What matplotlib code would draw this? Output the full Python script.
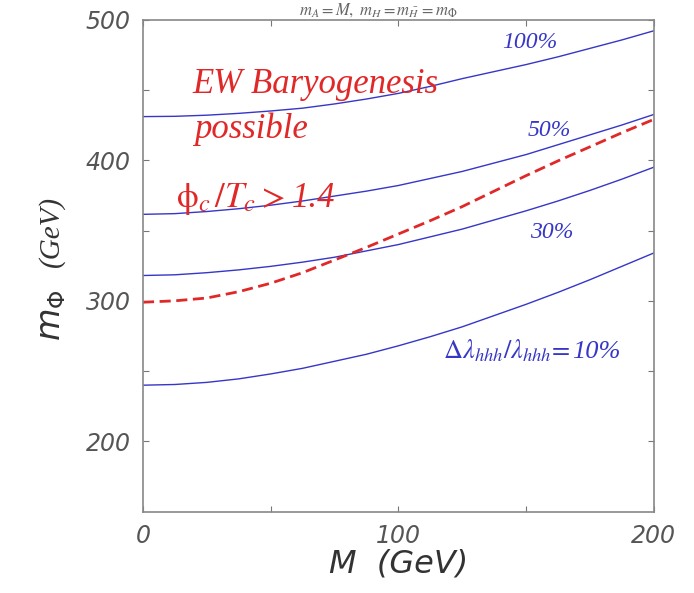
import numpy as np
import matplotlib
matplotlib.use("Agg")
import matplotlib.pyplot as plt

# M (GeV) grid and m_Phi curves
M = [0, 12.5, 25, 37.5, 50, 62.5, 75, 87.5, 100, 112.5, 125, 137.5, 150, 162.5, 175, 187.5, 200]
m100 = [431, 431.2, 432, 433.3, 435, 437, 440, 443.5, 447.5, 452.5, 458, 463, 468, 473.5, 479.5, 485.5, 492]
m50 = [361.5, 362, 363.5, 365.5, 368, 371, 374.5, 378, 382, 387, 392, 398, 404, 411, 418, 425, 432.5]
m30 = [318, 318.5, 320, 322, 324.5, 327.5, 331, 335.5, 340, 345.5, 351, 357.5, 364, 371, 378.5, 386.5, 395]
m10 = [240, 240.5, 242, 244.5, 248, 252, 257, 262, 268, 274.5, 281.5, 289.5, 297.5, 306, 315, 324.5, 334]
m_ewbg = [299, 300, 302, 306.5, 312.5, 320, 329, 338, 347.5, 357, 367, 378, 389, 399.5, 409.5, 419.5, 429]

xticks = [0, 100, 200]
yticks = [200, 300, 400, 500]

blue = '#3636c8'
red = '#e02828'
gray = '#555555'

fig = plt.figure(figsize=(6.94, 5.93), dpi=100)
ax = fig.add_axes([0.206, 0.137, 0.736, 0.830])

for m in (m100, m50, m30, m10):
    ax.plot(M, m, color=blue, lw=1.0)
ax.plot(M, m_ewbg, color=red, lw=2.0, dashes=(4.0, 2.0))

ax.set_xlim(0, 200)
ax.set_ylim(150, 500)
ax.set_xticks(xticks)
ax.set_yticks(yticks)
ax.set_xticks([50, 150], minor=True)
ax.set_yticks([250, 350, 450], minor=True)
ax.tick_params(which='both', direction='in', top=True, right=True,
               color='#777777', length=4, width=0.8)
ax.tick_params(which='major', labelsize=17, labelcolor=gray, pad=9)
for lab in ax.get_xticklabels() + ax.get_yticklabels():
    lab.set_fontstyle('italic')
for s in ax.spines.values():
    s.set_color('#888888')
    s.set_linewidth(1.2)

ax.set_xlabel('M  (GeV)', fontsize=23, fontstyle='italic', color='#333333', labelpad=0)

# y label: sans m_Phi plus serif (GeV)
ax.text(-0.18, 0.40, r'$m_\Phi$', transform=ax.transAxes, rotation=90,
        fontsize=24, color='#333333', math_fontfamily='dejavusans',
        ha='center', va='center')
ax.text(-0.18, 0.57, '(GeV)', transform=ax.transAxes, rotation=90,
        fontsize=21, color='#333333', family='Liberation Serif', style='italic',
        ha='center', va='center')

serif = dict(family='Liberation Serif', style='italic')
ax.text(19.5, 448, 'EW Baryogenesis', color=red, fontsize=25, **serif)
ax.text(20, 416, 'possible', color=red, fontsize=25, **serif)
t1 = ax.text(13, 367, r'$\mathrm{\phi}_c\,/T_c >$', color=red, fontsize=25,
             math_fontfamily='stix')

ax.text(140.5, 480, '100%', color=blue, fontsize=17, **serif)
ax.text(150.5, 417, '50%', color=blue, fontsize=17, **serif)
ax.text(151.5, 344.5, '30%', color=blue, fontsize=17, **serif)
t2 = ax.text(117.5, 259, r'$\Delta\lambda_{hhh}/\lambda_{hhh}\!=$',
             color=blue, fontsize=19, math_fontfamily='stix')

# italic numbers placed right after the math parts
fig.canvas.draw()
inv = ax.transData.inverted()
x1 = inv.transform(t1.get_window_extent().get_points()[1])[0]
ax.text(x1 + 2.5, 367, '1.4', color=red, fontsize=25, **serif)
x2 = inv.transform(t2.get_window_extent().get_points()[1])[0]
ax.text(x2 + 0.5, 259, '10%', color=blue, fontsize=19, **serif)

# title at the very top edge
fig.text(0.545, 0.999, r'$m_A = M,\ m_H = m_{\bar H} = m_\Phi$',
         fontsize=12, color='#666666', ha='center', va='top',
         math_fontfamily='stix')

fig.savefig('out.png', dpi=100)
